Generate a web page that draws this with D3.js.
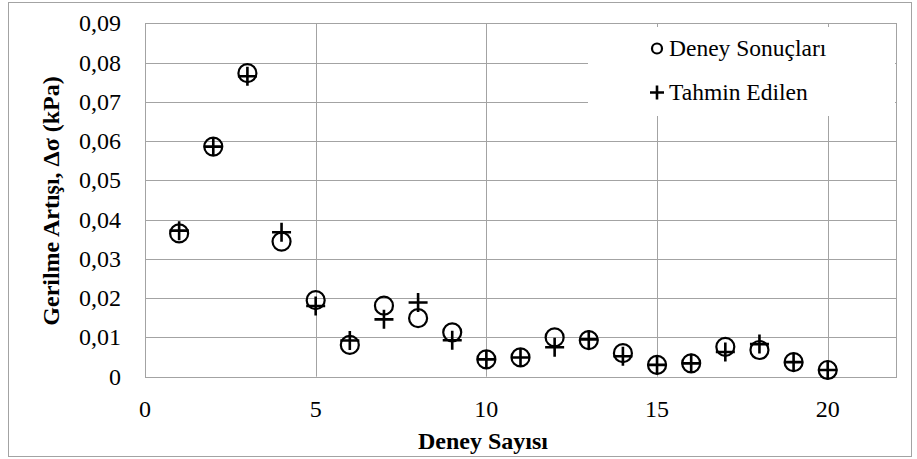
<!DOCTYPE html>
<html>
<head>
<meta charset="utf-8">
<script src="https://cdn.jsdelivr.net/npm/d3@7"></script>
<style>
body { margin: 0; }
#chart { position: relative; width: 917px; height: 459px; }
#chart svg { position: absolute; left: 0; top: 0; }
.lbl { position: absolute; font-family: 'Liberation Serif', 'Times New Roman', Tinos; color: #000; white-space: nowrap; line-height: 1; }
</style>
</head>
<body>
<div id="chart"></div>
<script>
// values
var deneyNo = [1, 2, 3, 4, 5, 6, 7, 8, 9, 10, 11, 12, 13, 14, 15, 16, 17, 18, 19, 20];
var deneySonuclari = [0.0365, 0.0586, 0.0773, 0.0344, 0.0195, 0.0081, 0.0181, 0.0149, 0.0113, 0.0044,
                      0.0049, 0.0100, 0.0093, 0.0060, 0.0030, 0.0034, 0.0076, 0.0068, 0.0037, 0.0017];
var tahminEdilen = [0.0372, 0.0586, 0.0765, 0.0368, 0.0180, 0.0092, 0.0146, 0.0189, 0.0093, 0.0044,
                    0.0049, 0.0075, 0.0095, 0.0052, 0.0030, 0.0034, 0.0063, 0.0083, 0.0037, 0.0017];
var xTicks = [0, 5, 10, 15, 20];
var yTicks = [0, 0.01, 0.02, 0.03, 0.04, 0.05, 0.06, 0.07, 0.08, 0.09];
var legendLabels = ["Deney Sonuçları", "Tahmin Edilen"];

var width = 917, height = 459;
var gridColor = "#a3a3a3";

var chart = d3.select("#chart");
var svg = chart.append("svg")
  .attr("width", width)
  .attr("height", height);

// outer frame
svg.append("rect")
  .attr("x", 8.5).attr("y", 2.5)
  .attr("width", 903).attr("height", 454)
  .attr("fill", "#fff")
  .attr("stroke", gridColor);

var x = d3.scaleLinear().domain([0, 22]).range([145, 896]);
var y = d3.scaleLinear().domain([0, 0.09]).range([376.7, 23.3]);

var fmtY = function(d) { return d === 0 ? "0" : d3.format(".2f")(d).replace(".", ","); };

// grid lines
svg.append("g")
  .selectAll("line")
  .data(yTicks.slice(1))
  .enter().append("line")
  .attr("x1", x(0)).attr("x2", x(22))
  .attr("y1", function(d) { return Math.round(y(d)) + 0.5; })
  .attr("y2", function(d) { return Math.round(y(d)) + 0.5; })
  .attr("stroke", gridColor);

svg.append("g")
  .selectAll("line")
  .data(xTicks.slice(1))
  .enter().append("line")
  .attr("y1", y(0)).attr("y2", y(0.09))
  .attr("x1", function(d) { return Math.round(x(d)) + 0.5; })
  .attr("x2", function(d) { return Math.round(x(d)) + 0.5; })
  .attr("stroke", gridColor);

// plot border
svg.append("rect")
  .attr("x", Math.round(x(0)) + 0.5).attr("y", Math.round(y(0.09)) + 0.5)
  .attr("width", Math.round(x(22)) - Math.round(x(0)))
  .attr("height", Math.round(y(0)) - Math.round(y(0.09)))
  .attr("fill", "none")
  .attr("stroke", gridColor);

// legend box hides the grid behind it
svg.append("rect")
  .attr("x", 588).attr("y", 27)
  .attr("width", 307).attr("height", 89)
  .attr("fill", "#fff");

// data markers
var rows = deneyNo.map(function(n, i) {
  return { n: n, deney: deneySonuclari[i], tahmin: tahminEdilen[i] };
});

svg.append("g")
  .selectAll("circle")
  .data(rows)
  .enter().append("circle")
  .attr("cx", function(d) { return x(d.n); })
  .attr("cy", function(d) { return y(d.deney); })
  .attr("r", 9)
  .attr("fill", "none")
  .attr("stroke", "#000")
  .attr("stroke-width", 2.2);

var plus = function(cx, cy, s) {
  return "M" + (cx - s) + "," + cy + "H" + (cx + s) + "M" + cx + "," + (cy - s) + "V" + (cy + s);
};

svg.append("g")
  .selectAll("path")
  .data(rows)
  .enter().append("path")
  .attr("d", function(d) { return plus(x(d.n), y(d.tahmin), 9.5); })
  .attr("fill", "none")
  .attr("stroke", "#000")
  .attr("stroke-width", 2.6);

// legend symbols
svg.append("circle")
  .attr("cx", 657).attr("cy", 48.5).attr("r", 5)
  .attr("fill", "none").attr("stroke", "#000").attr("stroke-width", 2.2);
svg.append("path")
  .attr("d", plus(657, 92.5, 7))
  .attr("fill", "none").attr("stroke", "#000").attr("stroke-width", 2.6);

// text as html labels placed with the scales
chart.selectAll(".ytick")
  .data(yTicks)
  .enter().append("div")
  .attr("class", "lbl ytick")
  .style("font-size", "24px")
  .style("right", (width - 121) + "px")
  .style("top", function(d) { return (y(d) - 12) + "px"; })
  .text(fmtY);

chart.selectAll(".xtick")
  .data(xTicks)
  .enter().append("div")
  .attr("class", "lbl xtick")
  .style("font-size", "24px")
  .style("left", function(d) { return x(d) + "px"; })
  .style("top", "397px")
  .style("transform", "translateX(-50%)")
  .text(function(d) { return d; });

chart.append("div")
  .attr("class", "lbl")
  .style("font-size", "24px")
  .style("font-weight", "bold")
  .style("left", "483px")
  .style("top", "429px")
  .style("transform", "translateX(-50%)")
  .text("Deney Sayısı");

chart.append("div")
  .attr("class", "lbl")
  .style("font-size", "24px")
  .style("font-weight", "bold")
  .style("left", "51px")
  .style("top", "201px")
  .style("transform", "translate(-50%,-50%) rotate(-90deg)")
  .text("Gerilme Artışı, Δσ (kPa)");

chart.selectAll(".lg")
  .data(legendLabels)
  .enter().append("div")
  .attr("class", "lbl lg")
  .style("font-size", "23.5px")
  .style("left", "669px")
  .style("top", function(d, i) { return (48.5 + i * 44 - 12) + "px"; })
  .text(function(d) { return d; });
</script>
</body>
</html>
